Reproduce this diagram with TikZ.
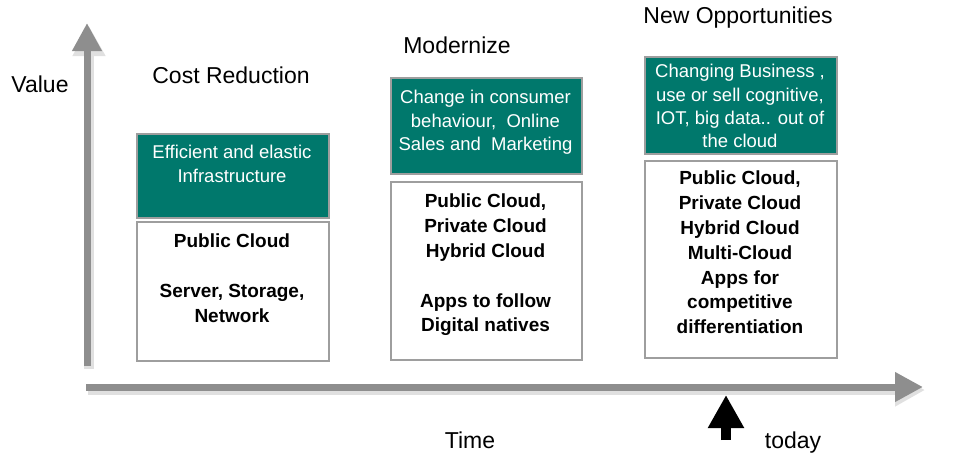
\documentclass[tikz,border=0pt]{standalone}
\usepackage{fontspec}
\setmainfont{Liberation Sans}
\usetikzlibrary{arrows.meta}
\definecolor{tealfill}{HTML}{00786C}
\definecolor{axisgray}{HTML}{8E8E8E}
\definecolor{boxborder}{HTML}{9E9E9E}
\begin{document}
\begin{tikzpicture}[x=1pt,y=-1pt,
 axis/.style={draw=axisgray, line width=7pt, -{Triangle[width=28pt,length=28pt]}},
 axisshadow/.style={draw=black!12, line width=10pt, -{Triangle[width=31pt,length=30pt]}},
 tealbox/.style={draw=boxborder, line width=2pt, fill=tealfill, inner sep=0pt, anchor=north west},
 whitebox/.style={draw=boxborder, line width=2pt, fill=white, inner sep=0pt, anchor=north west},
 tealtext/.style={text=white, font=\fontsize{18.5}{23.4}\selectfont, align=center, anchor=north, inner sep=0pt},
 boldtext/.style={font=\fontsize{19}{24.8}\selectfont\bfseries, align=center, anchor=north, inner sep=0pt},
 title/.style={font=\fontsize{23}{27}\selectfont, anchor=base, inner sep=0pt},
 todayarrow/.style={draw=black, line width=10pt, -{Triangle[width=34pt,length=33pt]}}
]
\useasboundingbox (0,0) rectangle (959,461);

% axes
\coordinate (vbot) at (87,366);
\coordinate (vtop) at (87,23);
\coordinate (hleft) at (86,387);
\coordinate (hright) at (923,387);
\coordinate (vbotS) at (89,369);
\coordinate (vtopS) at (89,26);
\coordinate (hleftS) at (88,390);
\coordinate (hrightS) at (925,390);
\draw[axisshadow] (vbotS) -- (vtopS);
\draw[axisshadow] (hleftS) -- (hrightS);
\draw[axis] (vbot) -- (vtop);
\draw[axis] (hleft) -- (hright);

% today arrow
\coordinate (tbot) at (726,440);
\coordinate (ttop) at (726,395);
\draw[todayarrow] (tbot) -- (ttop);

% boxes
\node[tealbox, minimum width=192pt, minimum height=84pt] (t1) at (136,133) {};
\node[whitebox, minimum width=192pt, minimum height=139pt] (w1) at (136,221) {};
\node[tealbox, minimum width=191pt, minimum height=96pt] (t2) at (390,77) {};
\node[whitebox, minimum width=191pt, minimum height=178pt] (w2) at (390,181) {};
\node[tealbox, minimum width=192pt, minimum height=97pt] (t3) at (644,56) {};
\node[whitebox, minimum width=192pt, minimum height=197pt] (w3) at (644,160) {};

% box texts
\node[tealtext] (t1txt) at (232,145) {Efficient and elastic\\Infrastructure};
\node[tealtext] (t2txt) at (485.5,90) {Change in consumer\\behaviour,\ \ Online\\Sales and\ \ Marketing};
\node[tealtext] (t3txt) at (740,64) {Changing Business ,\\use or sell cognitive,\\IOT, big data.. out of\\the cloud};

\node[boldtext] (w1txt) at (232,234) {Public Cloud\\[24.8pt]Server, Storage,\\Network};
\node[boldtext] (w2txt) at (485.5,194) {Public Cloud,\\Private Cloud\\Hybrid Cloud\\[24.8pt]Apps to follow\\Digital natives};
\node[boldtext] (w3txt) at (740,171) {Public Cloud,\\Private Cloud\\Hybrid Cloud\\Multi-Cloud\\Apps for\\competitive\\differentiation};

% titles
\node[title] (value) at (40,92) {Value};
\node[title] (cost) at (231,83) {Cost Reduction};
\node[title] (modern) at (457,53) {Modernize};
\node[title] (newopp) at (738,23) {New Opportunities};
\node[title] (time) at (470,448) {Time};
\node[title] (today) at (793,448) {today};
\end{tikzpicture}
\end{document}
